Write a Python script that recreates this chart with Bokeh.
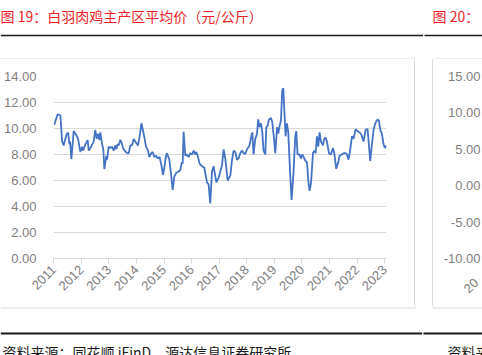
import pandas as pd
from math import pi
from bokeh.plotting import figure
from bokeh.layouts import column, row
from bokeh.models import Range1d, FixedTicker, NumeralTickFormatter, Spacer
from bokeh.core.properties import value
from bokeh.embed import file_html
from bokeh.resources import INLINE

dates = [
    "2011-01-07", "2011-02-22", "2011-03-30", "2011-04-21", "2011-05-12", "2011-06-17", "2011-07-09",
    "2011-07-27", "2011-08-05", "2011-08-22", "2011-09-22", "2011-10-26", "2011-11-19", "2011-12-19",
    "2012-01-11", "2012-01-24", "2012-02-24", "2012-03-25", "2012-04-08", "2012-05-09", "2012-06-05",
    "2012-06-12", "2012-07-04", "2012-07-22", "2012-08-10", "2012-08-27", "2012-09-09", "2012-10-02",
    "2012-10-18", "2012-11-01", "2012-11-27", "2012-12-07", "2012-12-28",
    "2013-01-20", "2013-02-12", "2013-03-05", "2013-03-28", "2013-04-10", "2013-04-27", "2013-05-10",
    "2013-06-02", "2013-06-24", "2013-07-07", "2013-07-28", "2013-08-29", "2013-09-20", "2013-10-12",
    "2013-11-04", "2013-11-25", "2013-12-17",
    "2014-01-09", "2014-01-22", "2014-02-12", "2014-03-07", "2014-04-06", "2014-05-08", "2014-06-03",
    "2014-06-21", "2014-07-16", "2014-08-03", "2014-08-25", "2014-09-17", "2014-10-08", "2014-11-04",
    "2014-11-26", "2014-12-19",
    "2015-01-05", "2015-01-27", "2015-02-09", "2015-03-12", "2015-04-04", "2015-04-25", "2015-05-17",
    "2015-06-13", "2015-07-12", "2015-08-05", "2015-08-18", "2015-08-27", "2015-09-05", "2015-09-17",
    "2015-10-10", "2015-11-01", "2015-11-23", "2015-12-15",
    "2016-01-07", "2016-01-28", "2016-02-19", "2016-03-04", "2016-03-26", "2016-04-16", "2016-05-18",
    "2016-06-17", "2016-07-23", "2016-08-13", "2016-09-04", "2016-09-27", "2016-10-18", "2016-11-24",
    "2016-12-23",
    "2017-01-16", "2017-02-08", "2017-03-01", "2017-03-23", "2017-04-23", "2017-05-29", "2017-06-21",
    "2017-07-11", "2017-08-03", "2017-08-25", "2017-09-15", "2017-10-08", "2017-10-30", "2017-11-21",
    "2017-12-13",
    "2018-01-04", "2018-02-04", "2018-02-26", "2018-03-16", "2018-04-01", "2018-04-24", "2018-05-17",
    "2018-06-02", "2018-06-21", "2018-07-09", "2018-07-26", "2018-08-12", "2018-09-04", "2018-09-17",
    "2018-10-04", "2018-10-23", "2018-11-18", "2018-12-05", "2018-12-23",
    "2019-01-14", "2019-02-06", "2019-02-23", "2019-03-12", "2019-03-30", "2019-04-16", "2019-04-30",
    "2019-05-14", "2019-05-30", "2019-06-17", "2019-07-05", "2019-07-31", "2019-08-18", "2019-09-13",
    "2019-10-06", "2019-10-19", "2019-11-05", "2019-12-02", "2019-12-20",
    "2020-01-07", "2020-02-02", "2020-02-19", "2020-03-09", "2020-03-26", "2020-04-12", "2020-05-01",
    "2020-05-27", "2020-06-13", "2020-07-01", "2020-07-19", "2020-08-05", "2020-08-22", "2020-09-10",
    "2020-10-06", "2020-10-23", "2020-11-10", "2020-11-28", "2020-12-25",
    "2021-01-21", "2021-02-16", "2021-03-06", "2021-04-01", "2021-04-28", "2021-05-15", "2021-06-11",
    "2021-07-07", "2021-08-03", "2021-08-21", "2021-09-11", "2021-10-04", "2021-10-26", "2021-11-16",
    "2021-12-13",
    "2022-01-08", "2022-02-04", "2022-03-02", "2022-03-29", "2022-04-24", "2022-05-21", "2022-06-08",
    "2022-06-25", "2022-07-18", "2022-08-08", "2022-09-03", "2022-09-30", "2022-10-19", "2022-11-05",
    "2022-11-27", "2022-12-18",
    "2023-01-05", "2023-01-23",
]

price = [
    10.3, 11.1, 11.0, 9.05, 8.7, 9.5, 9.7, 8.8, 9.0, 7.65, 9.8, 9.5, 9.2, 8.2,
    8.6, 8.3, 8.8, 9.1, 8.3, 8.6, 8.9, 9.0, 9.9, 9.2, 9.6, 9.1, 9.7, 8.8, 8.4, 6.88, 7.9, 7.6, 8.6,
    8.5, 8.6, 8.3, 8.7, 8.4, 8.8, 8.7, 9.13, 8.8, 8.5, 8.3, 8.1, 8.1, 8.7, 8.7, 9.2, 9.0,
    8.8, 8.7, 9.4, 10.4, 9.6, 8.6, 8.3, 7.8, 8.1, 8.2, 7.8, 7.9, 7.7, 7.8, 7.2, 6.44,
    7.0, 7.9, 8.1, 7.6, 6.5, 5.28, 6.3, 6.6, 6.7, 6.8, 7.2, 7.4, 7.3, 9.75, 7.9, 8.0, 7.8, 8.1,
    8.0, 8.3, 8.0, 8.2, 7.8, 7.3, 7.1, 7.0, 5.85, 5.7, 4.23, 6.7, 7.1, 5.85, 6.2,
    6.7, 7.2, 8.4, 7.7, 6.0, 6.4, 7.6, 8.3, 8.2, 7.6, 7.7, 8.1, 8.3, 8.1, 8.05,
    8.4, 8.65, 9.3, 9.7, 8.0, 9.2, 9.6, 10.7, 10.1, 10.4, 9.7, 8.3, 8.0, 10.1, 10.2, 10.7, 10.8, 10.5, 9.5,
    8.1, 10.1, 9.6, 10.2, 10.6, 12.9, 13.1, 11.4, 9.4, 10.4, 9.7, 6.4, 4.5, 6.7, 9.4, 9.8, 8.0, 8.0, 7.7,
    8.0, 7.7, 7.5, 7.4, 6.0, 5.2, 5.8, 8.1, 8.3, 8.1, 9.4, 8.6, 9.7, 9.0, 8.7, 9.2, 9.3, 9.0, 8.1,
    8.0, 8.5, 8.1, 6.9, 7.4, 7.9, 8.0, 8.1, 8.1, 8.0, 7.6, 8.4, 9.4, 9.2, 9.95,
    9.8, 9.7, 9.5, 9.0, 9.9, 9.95, 8.7, 7.5, 8.8, 9.9, 10.45, 10.7, 10.6, 9.9, 9.6, 8.8,
    8.5, 8.7,
]

year_ticks = list(range(2011, 2024))
y_ticks = [0, 2, 4, 6, 8, 10, 12, 14]
panel2_ticks = [15, 10, 5, 0, -5, -10]

title_texts = ["图 19：白羽肉鸡主产区平均价（元/公斤）", "图 20："]
source_texts = ["资料来源：同花顺 iFinD，源达信息证券研究所", "资料来"]
panel2_xlabel = "20"

dt = pd.to_datetime(dates)
xpos = (dt.year + (dt.dayofyear - 1) / 365.25).tolist()

CJK = "Noto Sans CJK SC"
NUM = "Liberation Sans"
RED = "#ee1c25"
GRAY_TXT = "#808080"
GRID = "#d9d9d9"
INK = "#1a1a1a"

W = 482
TOP_H = 59          # title strip (canvas 0..59)
MID_H = 246         # chart strip (canvas 59..305)
BOT_H = 50          # source strip (canvas 305..355)
P_W = 414           # main panel width
GAP = 17            # space between the two panels
FRAME_TOP, FRAME_BOTTOM = 76, 258
FRAME_LEFT, FRAME_RIGHT = 53, 386
B1 = P_W + 0.5              # x of panel-1 right border
B2 = P_W + 1 + GAP + 0.5    # x of panel-2 left border
BORDER_TOP, BORDER_BOTTOM = 58.5, 307.5


def blank(width, height, x0, x1, y_top, y_bottom):
    f = figure(width=width, height=height, output_backend="svg", toolbar_location=None,
               x_range=Range1d(x0, x1), y_range=Range1d(y_bottom, y_top),
               x_axis_location=None, y_axis_location=None,
               min_border=0, min_border_left=0, min_border_right=0,
               min_border_top=0, min_border_bottom=0)
    f.outline_line_color = None
    f.background_fill_color = "white"
    f.border_fill_color = "white"
    f.grid.visible = False
    return f


# ---------- top strip ----------
top = blank(W, TOP_H, 0, W, 0, TOP_H)
top.text(x=[0, 432], y=[15, 15], text=title_texts, text_color=RED,
         text_font=value(CJK), text_font_size="14px", text_baseline="middle", text_align="left")
top.segment(x0=[0, 424], y0=[35, 35], x1=[422.5, W], y1=[35, 35], line_color=INK, line_width=1.3)
top.segment(x0=[0, B2], y0=[BORDER_TOP] * 2, x1=[B1, W], y1=[BORDER_TOP] * 2,
            line_color=GRID, line_width=1)
top.segment(x0=[B1, B2], y0=[BORDER_TOP] * 2, x1=[B1, B2], y1=[TOP_H] * 2,
            line_color=GRID, line_width=1)

# ---------- main chart ----------
p = figure(width=P_W, height=MID_H, output_backend="svg", toolbar_location=None,
           x_range=Range1d(2010.99, 2023.07), y_range=Range1d(0, 14),
           min_border_left=FRAME_LEFT, min_border_right=P_W - FRAME_RIGHT,
           min_border_top=FRAME_TOP - TOP_H, min_border_bottom=TOP_H + MID_H - FRAME_BOTTOM)
p.outline_line_color = None
p.background_fill_color = "white"
p.border_fill_color = "white"

p.line(xpos, price, line_color="#4472c4", line_width=1.8)

p.yaxis.ticker = FixedTicker(ticks=y_ticks)
p.yaxis.formatter = NumeralTickFormatter(format="0.00")
p.yaxis.axis_line_color = None
p.yaxis.major_tick_line_color = None
p.yaxis.minor_tick_line_color = None
p.yaxis.major_label_standoff = 11
p.yaxis.major_label_text_font = NUM
p.yaxis.major_label_text_font_size = "13px"
p.yaxis.major_label_text_color = GRAY_TXT

p.xaxis.ticker = FixedTicker(ticks=year_ticks)
p.xaxis.formatter = NumeralTickFormatter(format="0")
p.xaxis.major_label_orientation = pi / 4
p.xaxis.axis_line_color = GRID
p.xaxis.axis_line_width = 1.2
p.xaxis.major_tick_line_color = GRID
p.xaxis.major_tick_in = 0
p.xaxis.major_tick_out = 5
p.xaxis.minor_tick_line_color = None
p.xaxis.major_label_standoff = 4
p.xaxis.major_label_text_font = NUM
p.xaxis.major_label_text_font_size = "13px"
p.xaxis.major_label_text_color = GRAY_TXT

p.xgrid.visible = False
p.ygrid.ticker = FixedTicker(ticks=y_ticks)
p.ygrid.grid_line_color = GRID
p.ygrid.grid_line_width = 1.2

# ---------- start of the neighbouring panel ----------
R_W = W - P_W - 1 - GAP - 1
r = figure(width=R_W, height=MID_H, output_backend="svg", toolbar_location=None,
           x_range=Range1d(0, 1), y_range=Range1d(min(panel2_ticks), max(panel2_ticks)),
           min_border_left=R_W - 1, min_border_right=0,
           min_border_top=FRAME_TOP - TOP_H, min_border_bottom=TOP_H + MID_H - FRAME_BOTTOM)
r.outline_line_color = None
r.background_fill_color = "white"
r.border_fill_color = "white"
r.grid.visible = False
r.yaxis.ticker = FixedTicker(ticks=panel2_ticks)
r.yaxis.formatter = NumeralTickFormatter(format="0.00")
r.yaxis.axis_line_color = None
r.yaxis.major_tick_line_color = None
r.yaxis.minor_tick_line_color = None
r.yaxis.major_tick_out = 0
r.yaxis.major_label_standoff = 1
r.yaxis.major_label_text_font = NUM
r.yaxis.major_label_text_font_size = "13px"
r.yaxis.major_label_text_color = GRAY_TXT
r.xaxis.ticker = FixedTicker(ticks=[1])
r.xaxis.major_label_overrides = {1: panel2_xlabel}
r.xaxis.major_label_orientation = pi / 4
r.xaxis.axis_line_color = None
r.xaxis.major_tick_line_color = None
r.xaxis.minor_tick_line_color = None
r.xaxis.major_tick_out = 0
r.xaxis.major_label_standoff = 22
r.xaxis.major_label_text_font = NUM
r.xaxis.major_label_text_font_size = "13px"
r.xaxis.major_label_text_color = GRAY_TXT

vline1 = Spacer(width=1, height=MID_H, styles={"background-color": GRID})
gap = Spacer(width=GAP, height=MID_H)
vline2 = Spacer(width=1, height=MID_H, styles={"background-color": GRID})

# ---------- bottom strip ----------
y0b = TOP_H + MID_H
bot = blank(W, BOT_H, 0, W, y0b, y0b + BOT_H)
bot.segment(x0=[B1, B2], y0=[y0b] * 2, x1=[B1, B2], y1=[BORDER_BOTTOM] * 2,
            line_color=GRID, line_width=1)
bot.segment(x0=[0, B2], y0=[BORDER_BOTTOM] * 2, x1=[B1, W], y1=[BORDER_BOTTOM] * 2,
            line_color=GRID, line_width=1)
bot.segment(x0=[0, 423], y0=[333, 333], x1=[421.7, W], y1=[333, 333], line_color=INK, line_width=2)
bot.text(x=[2, 447], y=[341, 341], text=source_texts, text_color=INK, text_font=value(CJK),
         text_font_size="14px", text_baseline="top", text_align="left")

layout = column(top, row(p, vline1, gap, vline2, r, spacing=0), bot, spacing=0)

open("out.html", "w").write(file_html(layout, INLINE))
